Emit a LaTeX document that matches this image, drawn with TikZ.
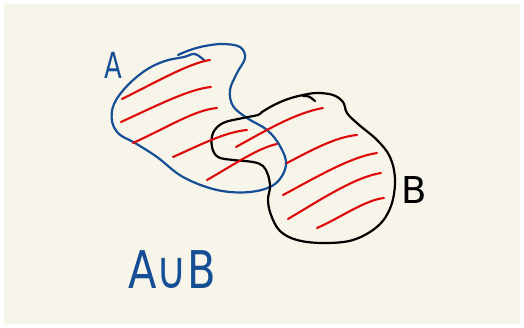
\documentclass[tikz,border=0pt]{standalone}
\usepackage{fontspec}
\newfontfamily\hand{DejaVu Sans}
\definecolor{paper}{RGB}{247,245,234}
\definecolor{inkblue}{RGB}{22,78,150}
\definecolor{inkred}{RGB}{222,10,10}
\begin{document}
\begin{tikzpicture}[x=1pt,y=-1pt,
  stroke/.style={line width=2.2pt,line cap=round,line join=round},
  setA/.style={stroke,draw=inkblue},
  setB/.style={stroke,draw=black},
  hatch/.style={stroke,draw=inkred,line width=2.1pt},
  lbl/.style={inner sep=0pt,font=\hand}]
\useasboundingbox (0,0) rectangle (524,328);
\fill[white] (0,0) rectangle (524,328);
\fill[paper] (4,4) rectangle (520,324);
% set A (blue)
\draw[setA] plot[smooth,tension=0.6] coordinates {(205,61) (195,54) (184,57) (165,61) (146,70) (127,86) (114,104) (112,121) (119,134) (135,143) (157,157) (183,177) (217,190) (250,192) (275,184) (286,165) (280,146) (267,130) (247,118) (233,106) (230,90) (237,73) (245,58) (240,47) (223,44) (205,46) (190,50) (178,55)};
% set B (black)
\draw[setB] plot[smooth cycle,tension=0.6] coordinates {(262,112) (274,105) (288,99) (303,95) (317,93) (333,95) (343,102) (347,113) (358,124) (377,140) (390,157) (395,180) (391,206) (378,226) (353,240) (323,243) (297,240) (280,231) (271,215) (268,200) (270,187) (268,175) (263,166) (253,162) (233,160) (218,157) (212,147) (213,133) (223,123) (243,118) (258,115)};
\draw[setB] (303,96) .. controls (309,96) .. (315,101);
% hatching
\draw[hatch] (122,99) .. controls (160,80) and (190,63) .. (210,60);
\draw[hatch] (121,122) .. controls (160,104) and (190,89) .. (211,87);
\draw[hatch] (133,143) .. controls (170,126) and (195,110) .. (217,108);
\draw[hatch] (173,157) .. controls (200,145) and (225,132) .. (247,130);
\draw[hatch] (207,180) .. controls (235,164) and (258,148) .. (277,144);
\draw[hatch] (236,147) .. controls (265,131) and (295,113) .. (323,108);
\draw[hatch] (287,163) .. controls (310,151) and (335,137) .. (357,135);
\draw[hatch] (283,195) .. controls (315,178) and (350,157) .. (377,153);
\draw[hatch] (288,219) .. controls (320,200) and (355,177) .. (381,173);
\draw[hatch] (317,228) .. controls (340,218) and (365,200) .. (384,198);
% labels
\node[lbl,text=inkblue,font=\hand\fontsize{36}{36}\selectfont,xscale=0.72,anchor=south west] (labA) at (104,79) {A};
\node[lbl,text=black,font=\hand\fontsize{37}{37}\selectfont,anchor=south west] (labB) at (401,204) {B};
\node[lbl,text=inkblue,font=\hand\fontsize{52}{52}\selectfont,xscale=0.8,anchor=south west] (labAB) at (128,289) {A∪B};
\end{tikzpicture}
\end{document}
